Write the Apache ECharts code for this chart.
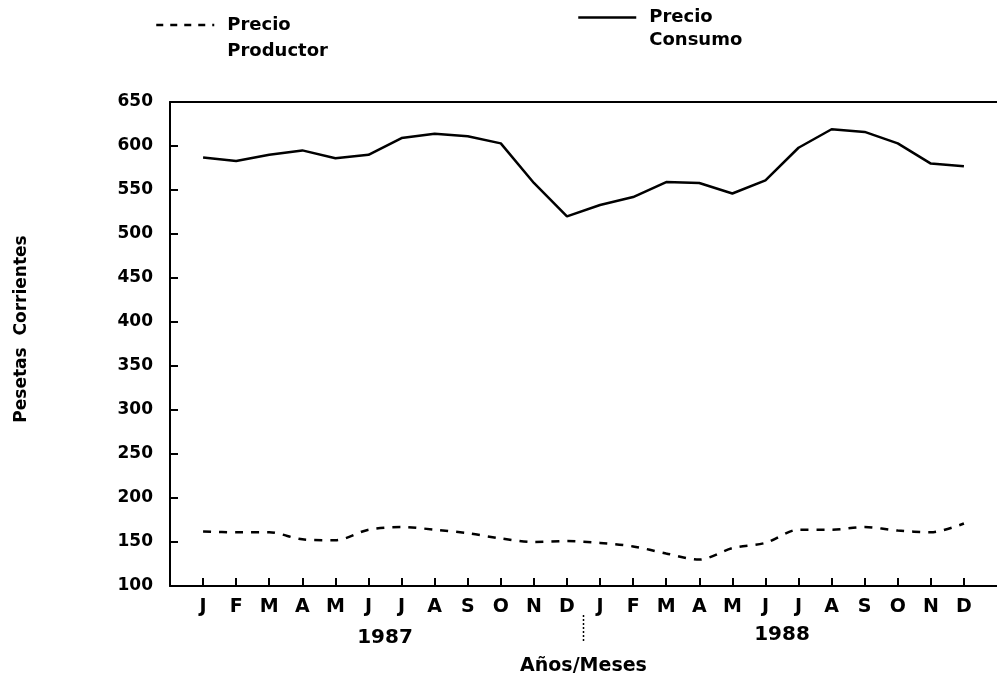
<!DOCTYPE html>
<html>
<head>
<meta charset="utf-8">
<script src="https://cdn.jsdelivr.net/npm/echarts@6/dist/echarts.min.js"></script>
<style>html,body{margin:0;padding:0;background:#fff}#c{width:997px;height:676px}</style>
</head>
<body>
<div id="c"></div>
<script>
// Month categories (padding slot at both ends)
const months = ['', 'J','F','M','A','M','J','J','A','S','O','N','D','J','F','M','A','M','J','J','A','S','O','N','D', ''];
const years = ['1987', '1988'];
const seriesNames = ['Precio Productor', 'Precio Consumo'];
// Precio Consumo (solid), Jan 1987 .. Dec 1988
const consumo = [587, 583, 590, 595, 586, 590, 609, 614, 611, 603, 558, 520, 533, 542, 559, 558, 546, 561, 598, 619, 616, 603, 580, 577];
// Precio Productor (dashed), Jan 1987 .. Dec 1988
const productor = [162, 161, 161, 153, 152, 164, 167, 164, 160, 154, 150, 151, 149, 145, 137, 130, 143, 149, 164, 164, 167, 163, 161, 171];
const yTicks = { min: 100, max: 650, interval: 50 };

const pad = a => [null].concat(a, [null]);
const FONT = 'DejaVu Sans';
const chart = echarts.init(document.getElementById('c'));
const option = {
  backgroundColor: '#fff',
  animation: false,
  grid: { left: 170, right: 0, top: 102, bottom: 90, containLabel: false, outerBoundsMode: 'none' },
  legend: [
    {
      data: [seriesNames[0]], left: 150, top: -19, orient: 'vertical',
      itemWidth: 58, itemHeight: 12, itemStyle: { opacity: 0 },
      lineStyle: { width: 2.5, type: [7, 7] },
      formatter: () => '\nPrecio\nProductor',
      textStyle: { fontFamily: FONT, fontWeight: 'bold', fontSize: 18, color: '#000', lineHeight: 26, padding: [0, 0, 0, 8] }
    },
    {
      data: [seriesNames[1]], left: 572, top: -22, orient: 'vertical',
      itemWidth: 58, itemHeight: 12, itemStyle: { opacity: 0 },
      lineStyle: { width: 2.5 },
      formatter: () => '\nPrecio\nConsumo',
      textStyle: { fontFamily: FONT, fontWeight: 'bold', fontSize: 18, color: '#000', lineHeight: 23, padding: [0, 0, 0, 8] }
    }
  ],
  xAxis: [
    {
      type: 'category', data: months, boundaryGap: false, position: 'bottom',
      axisLine: { lineStyle: { color: '#000', width: 2 } },
      axisTick: { inside: true, length: 8, lineStyle: { color: '#000', width: 2 }, interval: (i) => i > 0 && i < months.length - 1 },
      axisLabel: { interval: 0, margin: 12, fontFamily: FONT, fontWeight: 'bold', fontSize: 19, color: '#000' },
      name: 'Años/Meses', nameLocation: 'middle', nameGap: 71,
      nameTextStyle: { fontFamily: FONT, fontWeight: 'bold', fontSize: 19, color: '#000' },
      splitLine: { show: false }
    },
    {
      type: 'category', data: months, boundaryGap: false, position: 'top',
      axisLine: { lineStyle: { color: '#000', width: 2 } },
      axisTick: { show: false }, axisLabel: { show: false }, splitLine: { show: false }
    }
  ],
  yAxis: {
    type: 'value', min: yTicks.min, max: yTicks.max, interval: yTicks.interval,
    axisLine: { show: true, lineStyle: { color: '#000', width: 2 } },
    axisTick: { show: true, inside: true, length: 8, lineStyle: { color: '#000', width: 2 } },
    axisLabel: { margin: 17, fontFamily: FONT, fontWeight: 'bold', fontSize: 17, color: '#000' },
    splitLine: { show: false },
    name: 'Pesetas  Corrientes', nameLocation: 'middle', nameGap: 140, nameRotate: 90,
    nameTextStyle: { fontFamily: FONT, fontWeight: 'bold', fontSize: 17, color: '#000', padding: [0, 0, 0, 30] }
  },
  series: [
    {
      name: seriesNames[0], type: 'line', data: pad(productor), symbol: 'none', smooth: 0.3,
      lineStyle: { color: '#000', width: 2.5, type: [8, 8] }, itemStyle: { color: '#000' }
    },
    {
      name: seriesNames[1], type: 'line', data: pad(consumo), symbol: 'none', smooth: false,
      lineStyle: { color: '#000', width: 2.5, type: 'solid' }, itemStyle: { color: '#000' }
    }
  ]
};
chart.setOption(option);

// Year labels centred under each year's months, and the separator between years
const xAt = i => chart.convertToPixel({ xAxisIndex: 0 }, i);
const y1987 = (xAt(6) + xAt(7)) / 2;
const y1988 = (xAt(18) + xAt(19)) / 2;
const sep = (xAt(12) + xAt(13)) / 2;
chart.setOption({
  graphic: [
    { type: 'text', x: y1987, y: 638, style: { text: years[0], fontFamily: FONT, fontWeight: 'bold', fontSize: 20, fill: '#000', align: 'center', verticalAlign: 'middle' } },
    { type: 'text', x: y1988, y: 635, style: { text: years[1], fontFamily: FONT, fontWeight: 'bold', fontSize: 20, fill: '#000', align: 'center', verticalAlign: 'middle' } },
    { type: 'line', shape: { x1: sep, y1: 615, x2: sep, y2: 643 }, style: { stroke: '#000', lineWidth: 1.5, lineDash: [2, 2] } }
  ]
});
</script>
</body>
</html>
